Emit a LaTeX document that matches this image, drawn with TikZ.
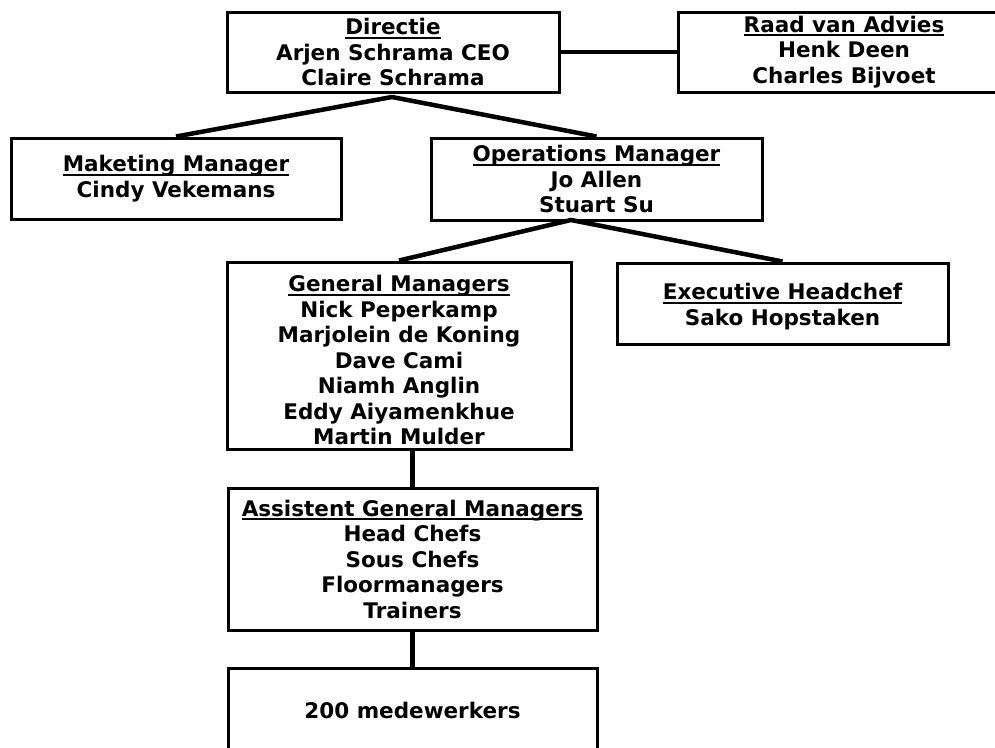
\documentclass[tikz,border=0pt]{standalone}
\usepackage{fontspec}
\setmainfont{DejaVu Sans}
\newcommand\myul[1]{\setbox0\hbox{#1}\rlap{\vrule height -2pt depth 4pt width \wd0}\box0}
\tikzset{
  orgbox/.style={draw, line width=3pt, rectangle, align=center, inner sep=0pt,
    font=\bfseries\fontsize{21.5}{25.5}\selectfont},
  conn/.style={line width=4.5pt, line join=miter}
}
\begin{document}
\begin{tikzpicture}[x=1pt,y=-1pt]
\useasboundingbox (0,0) rectangle (995,747);
\clip (0,0) rectangle (995,747);
\node[orgbox, minimum width=332pt, minimum height=80pt] (dir) at (393,52)
  {\myul{Directie}\\Arjen Schrama CEO\\Claire Schrama};
\node[orgbox, minimum width=332pt, minimum height=80pt] (raad) at (844,52)
  {\myul{Raad van Advies}\\Henk Deen\\Charles Bijvoet};
\node[orgbox, minimum width=330pt, minimum height=81pt] (mm) at (176,178.5)
  {\myul{Maketing Manager}\\Cindy Vekemans};
\node[orgbox, minimum width=331pt, minimum height=82pt] (ops) at (596.5,179)
  {\myul{Operations Manager}\\Jo Allen\\Stuart Su};
\node[orgbox, minimum width=344pt, minimum height=187pt] (gm) at (399,355.5)
  {\rule{0pt}{26pt}\myul{General Managers}\\Nick Peperkamp\\Marjolein de Koning\\Dave Cami\\Niamh Anglin\\Eddy Aiyamenkhue\\Martin Mulder};
\node[orgbox, minimum width=331pt, minimum height=81pt] (exec) at (782.5,303.5)
  {\rule{0pt}{22pt}\myul{Executive Headchef}\\Sako Hopstaken};
\node[orgbox, minimum width=369pt, minimum height=142pt] (agm) at (412.5,559)
  {\myul{Assistent General Managers}\\Head Chefs\\Sous Chefs\\Floormanagers\\Trainers};
\node[orgbox, minimum width=369pt, minimum height=84pt] (mw) at (412.5,710)
  {200 medewerkers};
\coordinate (dA) at (392,97);
\coordinate (oA) at (571,220);
\draw[conn] (dir.east) -- (raad.west);
\draw[conn] (mm.north) -- (dA) -- (ops.north);
\draw[conn] (gm.north) -- (oA) -- (exec.north);
\draw[conn] (agm.north |- gm.south) -- (agm.north);
\draw[conn] (agm.south) -- (mw.north);
\end{tikzpicture}
\end{document}
